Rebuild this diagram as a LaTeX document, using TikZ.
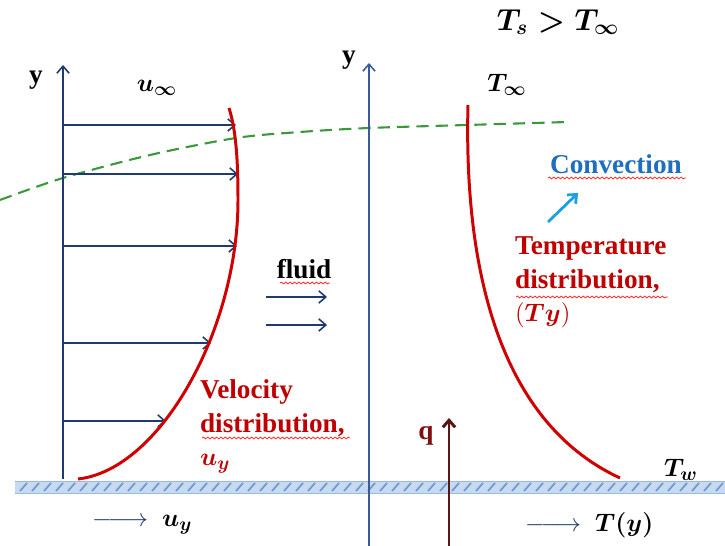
\documentclass[tikz,border=0pt]{standalone}
\usepackage{amsmath}
\usepackage{fontspec}
\setmainfont{Liberation Serif}
\usepackage{tikz}
\usetikzlibrary{decorations.pathmorphing,arrows.meta}

\definecolor{axisblue}{HTML}{1F3A70}
\definecolor{midblue}{HTML}{3A5A9A}
\definecolor{curvered}{HTML}{D00000}
\definecolor{textred}{HTML}{C00000}
\definecolor{convblue}{HTML}{1F6FBF}
\definecolor{cyanarrow}{HTML}{1CA0E0}
\definecolor{layergreen}{HTML}{3A9A3A}
\definecolor{heatbrown}{HTML}{5A1515}
\definecolor{wallfill}{HTML}{C8DAF0}
\definecolor{wallhatch}{HTML}{6F9BD0}

\tikzset{
  lbl/.style={font=\fontsize{15.5}{19}\selectfont\bfseries, inner sep=1pt},
  redlbl/.style={lbl, text=textred, align=left, anchor=north west},
  squig/.style={draw=red!80, line width=0.5pt, decorate,
    decoration={snake, amplitude=0.5pt, segment length=2.5pt}},
  profile/.style={curvered, line width=1.7pt},
  barb/.style={-{Straight Barb[length=4pt,width=7pt]}},
  flowarrow/.style={axisblue, line width=0.9pt, barb}
}

\begin{document}
\begin{tikzpicture}[x=0.02cm, y=-0.02cm]
    \useasboundingbox (0,0) rectangle (725,546);

    % Wall with hatching
    \fill[wallfill] (15,481) rectangle (725,493);
    \draw[wallhatch!70, line width=0.4pt] (15,481) -- (725,481) (15,493) -- (725,493);
    \foreach \x in {20,32,...,716}
        \draw[wallhatch, line width=1pt] (\x,491) -- (\x+7,483);

    % Boundary layer edge
    \draw[layergreen, line width=1.2pt, dash pattern=on 7pt off 4pt]
        plot[smooth] coordinates {(0,200) (63,178) (150,155) (236,138) (300,132) (369,128) (467,125) (568,122)};

    % Left y axis and velocity arrows
    \coordinate (vbase) at (63,479);
    \coordinate (vtop) at (63,65);
    \draw[flowarrow] (vbase) -- (vtop);
    \node[lbl] (yleft) at (36,80) {y};
    \node[lbl] (uinf) at (157,88) {$\boldsymbol{u_\infty}$};
    \foreach \y/\x [count=\i] in {125/236, 174/238, 246/237, 343/211, 421/166} {
        \coordinate (va\i) at (63,\y);
        \coordinate (vb\i) at (\x,\y);
        \draw[flowarrow] (va\i) -- (vb\i);
    }

    % Velocity profile
    \draw[profile] (78,479) .. controls (160,470) and (238,330) .. (238,200)
                           .. controls (238,160) and (236,130) .. (229,108);

    % Velocity label
    \node[redlbl] (vel) at (198,378) {Velocity\\distribution,\\$\boldsymbol{u_y}$};
    \draw[squig] (202,438) -- (350,438);

    % Middle y axis
    \coordinate (mbase) at (369,546);
    \coordinate (mtop) at (369,63);
    \draw[midblue, line width=0.9pt, barb] (mbase) -- (mtop);
    \node[lbl] (ymid) at (349,60) {y};

    % Fluid
    \node[lbl] (fluid) at (304,269) {fluid};
    \draw[squig] (280,283) -- (330,283);
    \coordinate (fa1) at (266,297);
    \coordinate (fb1) at (327,297);
    \coordinate (fa2) at (266,325);
    \coordinate (fb2) at (327,325);
    \draw[flowarrow] (fa1) -- (fb1);
    \draw[flowarrow] (fa2) -- (fb2);

    % Temperature profile
    \draw[profile] (468,105) .. controls (464,260) and (495,420) .. (620,478);
    \node[lbl] (tinf) at (507,85) {$\boldsymbol{T_\infty}$};
    \node[lbl, font=\fontsize{18}{20}\selectfont] (tcond) at (558,22) {$\boldsymbol{T_s > T_\infty}$};

    % Convection
    \node[lbl, text=convblue] (conv) at (616,164) {Convection};
    \draw[squig] (548,178) -- (686,178);
    \coordinate (ca) at (548,222);
    \coordinate (cb) at (578,193);
    \draw[cyanarrow, line width=1.6pt, barb] (ca) -- (cb);

    % Temperature label
    \node[redlbl] (temp) at (513,235) {Temperature\\distribution,\\$(\boldsymbol{Ty})$};
    \draw[squig] (516,297) -- (668,297);

    % Heat flux
    \coordinate (qa) at (449,546);
    \coordinate (qb) at (449,418);
    \draw[heatbrown, line width=1.7pt, barb] (qa) -- (qb);
    \node[lbl, text=heatbrown!80!red] (q) at (426,436) {q};

    % Wall temperature
    \node[lbl] (tw) at (681,470) {$\boldsymbol{T_w}$};

    % Bottom labels
    \node[lbl, text=axisblue, anchor=west] (ulab) at (90,525) {$\relbar\joinrel\longrightarrow\ \textcolor{black}{\boldsymbol{u_y}}$};
    \node[lbl, text=axisblue, anchor=west] (tlab) at (523,525) {$\relbar\joinrel\longrightarrow\ \textcolor{black}{\boldsymbol{T(y)}}$};

\end{tikzpicture}
\end{document}
